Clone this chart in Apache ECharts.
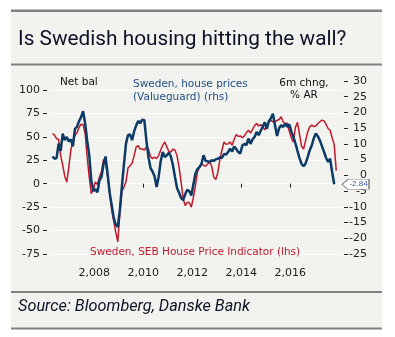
<!DOCTYPE html>
<html>
<head>
<meta charset="utf-8">
<script src="https://cdn.jsdelivr.net/npm/echarts@6/dist/echarts.min.js"></script>
<style>
html,body{margin:0;padding:0;background:#fff;}
#c{width:395px;height:337px;}
</style>
</head>
<body>
<div id="c"></div>
<script>
// Monthly data, first month April 2006
const startYear = 2006;
const startMonth = 4;

// Sweden, SEB House Price Indicator (lhs, net balance)
const sebIndicator = [
  53.6, 51.8, 48.0, 47.5, 30.0, 20.0, 8.0, 1.7, 18.0, 36.0,
  46.0, 51.5, 54.5, 60.0, 63.5, 63.0, 53.6, 28.0, 7.1, -10.7,
  -6.0, 2.0, -1.0, 7.1, 13.0, 26.0, 22.0, 8.0, -9.0, -28.0,
  -40.0, -51.8, -62.0, -32.0, -8.0, -3.6, 2.0, 17.0, 19.0, 22.0,
  30.0, 39.3, 40.5, 37.0, 37.0, 36.0, 39.3, 37.0, 29.0, 26.8,
  28.5, 26.8, 30.0, 36.0, 41.0, 44.6, 39.3, 34.5, 33.9, 37.0,
  35.7, 30.0, 18.0, 2.0, -16.0, -23.2, -20.0, -20.0, -25.0, -15.0,
  -2.0, 12.5, 17.5, 21.4, 19.6, 18.5, 21.0, 23.2, 18.5, 7.0,
  4.5, 12.0, 26.0, 35.7, 44.6, 42.0, 42.5, 44.6, 41.0, 47.5,
  52.5, 50.5, 51.0, 49.0, 51.0, 54.5, 57.1, 54.0, 58.0, 62.0,
  64.3, 61.5, 63.0, 61.0, 57.5, 62.5, 66.1, 67.5, 66.1, 66.1,
  67.5, 68.5, 71.4, 66.1, 64.3, 64.5, 56.0, 49.0, 44.6, 60.0,
  65.5, 53.0, 40.0, 37.0, 46.0, 55.0, 60.7, 62.5, 61.0, 61.5,
  64.3, 66.1, 67.9, 67.0, 63.5, 58.9, 57.1, 49.0, 42.0, 14.0
];

// Sweden, house prices (Valueguard), 6m chng % AR (rhs)
const valueguard = [
  6.0, 5.3, 5.5, 10.1, 7.8, 13.3, 11.2, 12.2, 10.8, 11.4,
  9.2, 14.8, 15.4, 17.2, 18.5, 20.4, 16.5, 11.0, 6.4, -1.6,
  -5.0, -4.4, -5.4, -1.6, -0.5, 3.5, 6.0, 0.5, -5.5, -9.5,
  -13.5, -15.7, -16.4, -11.0, -3.5, 3.5, 10.1, 12.8, 13.0, 11.2,
  14.0, 15.9, 17.3, 16.6, 17.7, 17.5, 11.1, 5.8, 2.4, 1.2,
  -0.3, -3.7, -0.5, 4.5, 7.4, 5.8, 6.4, 7.2, 6.0, 3.2,
  -0.5, -4.0, -5.5, -7.2, -7.9, -6.0, -4.6, -5.0, -6.4, -3.0,
  0.5, 2.0, 2.6, 3.7, 6.4, 4.6, 4.5, 4.2, 4.8, 4.6,
  5.1, 5.3, 5.7, 5.5, 6.8, 6.6, 7.4, 8.5, 7.6, 9.2,
  8.4, 7.4, 7.0, 9.5, 10.0, 9.6, 11.7, 10.0, 11.5, 12.2,
  13.8, 12.8, 14.2, 15.5, 16.9, 14.8, 17.2, 18.2, 19.6, 15.9,
  12.5, 15.0, 15.9, 15.4, 16.4, 15.4, 16.2, 14.0, 12.2, 10.2,
  7.8, 5.5, 3.7, 2.9, 3.8, 5.8, 8.0, 9.5, 11.8, 13.3,
  12.4, 11.1, 9.3, 7.5, 5.6, 4.3, 5.3, 1.0, -2.84
];

const yearTicks = [2008, 2010, 2012, 2014, 2016];
const xMin = 2006.19, xMax = 2018.11;

function toX(i) { return startYear + (startMonth - 1 + i + 0.5) / 12; }

const redData = sebIndicator.map((v, i) => [toX(i), v]);
const blueData = valueguard.map((v, i) => [toX(i), v]);
const lastBlue = valueguard[valueguard.length - 1];

const FONT = 'DejaVu Sans';
const chart = echarts.init(document.getElementById('c'), null, {renderer: 'canvas'});

const option = {
  animation: false,
  backgroundColor: '#ffffff',
  grid: [
    {left: 50, right: 53, top: 90, bottom: 83},
    {left: 50, right: 53, top: 81, bottom: 83}
  ],
  xAxis: [
    {
      gridIndex: 0, type: 'value', min: xMin, max: xMax, offset: 7,
      axisLine: {show: false},
      axisTick: {show: true, length: 4, customValues: yearTicks, lineStyle: {color: '#222', width: 1}},
      axisLabel: {customValues: yearTicks, margin: 7, color: '#222', fontSize: 11, fontFamily: FONT},
      splitLine: {show: false}
    },
    {
      gridIndex: 1, type: 'value', min: xMin, max: xMax, show: false,
      splitLine: {show: false}
    }
  ],
  yAxis: [
    {
      gridIndex: 0, type: 'value', position: 'left', min: -75, max: 100, interval: 25, offset: 3,
      axisLine: {show: false},
      axisTick: {show: true, length: 4, lineStyle: {color: '#222', width: 1}},
      axisLabel: {margin: 7, color: '#222', fontSize: 11, fontFamily: FONT},
      splitLine: {show: true, lineStyle: {color: '#ffffff', width: 1}}
    },
    {
      gridIndex: 1, type: 'value', position: 'right', min: -25, max: 30, interval: 5, offset: 2,
      axisLine: {show: false},
      axisTick: {show: true, length: 4, lineStyle: {color: '#222', width: 1}},
      axisLabel: {margin: 23, align: 'right', color: '#222', fontSize: 11, fontFamily: FONT},
      splitLine: {show: false}
    }
  ],
  graphic: {
    elements: [
      {type: 'rect', z: -10, shape: {x: 11, y: 10, width: 371, height: 319}, style: {fill: '#f2f2ee'}},
      {type: 'rect', z: -5, shape: {x: 11, y: 9.5, width: 371, height: 2.5}, style: {fill: '#808080'}},
      {type: 'rect', z: -5, shape: {x: 11, y: 63.5, width: 371, height: 2}, style: {fill: '#808080'}},
      {type: 'rect', z: -5, shape: {x: 11, y: 291, width: 371, height: 2}, style: {fill: '#808080'}},
      {type: 'rect', z: -5, shape: {x: 11, y: 327.5, width: 371, height: 2}, style: {fill: '#808080'}},
      {type: 'text', z: 10, x: 18, y: 39.5, style: {text: 'Is Swedish housing hitting the wall?', font: '20.8px Roboto', fill: '#0d1326', textVerticalAlign: 'middle'}},
      {type: 'text', z: 10, x: 18, y: 306.5, style: {text: 'Source: Bloomberg, Danske Bank', font: 'italic 16.3px Roboto', fill: '#0d1326', textVerticalAlign: 'middle'}},
      {type: 'text', z: 10, x: 60, y: 82, style: {text: 'Net bal', font: '10.5px "DejaVu Sans"', fill: '#111', textVerticalAlign: 'middle'}},
      {type: 'text', z: 10, x: 133, y: 84, style: {text: 'Sweden, house prices', font: '10.5px "DejaVu Sans"', fill: '#1f4f85', textVerticalAlign: 'middle'}},
      {type: 'text', z: 10, x: 133, y: 97, style: {text: '(Valueguard) (rhs)', font: '10.5px "DejaVu Sans"', fill: '#1f4f85', textVerticalAlign: 'middle'}},
      {type: 'text', z: 10, x: 304, y: 83, style: {text: '6m chng,', font: '10.5px "DejaVu Sans"', fill: '#111', textAlign: 'center', textVerticalAlign: 'middle'}},
      {type: 'text', z: 10, x: 304, y: 95, style: {text: '% AR', font: '10.5px "DejaVu Sans"', fill: '#111', textAlign: 'center', textVerticalAlign: 'middle'}},
      {type: 'text', z: 10, x: 90, y: 252, style: {text: 'Sweden, SEB House Price Indicator (lhs)', font: '10.5px "DejaVu Sans"', fill: '#c0192c', textVerticalAlign: 'middle'}}
    ]
  },
  series: [
    {
      name: 'Sweden, SEB House Price Indicator (lhs)',
      type: 'line', xAxisIndex: 0, yAxisIndex: 0,
      data: redData, showSymbol: false, symbol: 'none',
      lineStyle: {color: '#c0192c', width: 1.5}, z: 2
    },
    {
      name: 'Sweden, house prices (Valueguard) (rhs)',
      type: 'line', xAxisIndex: 1, yAxisIndex: 1,
      data: blueData, showSymbol: false, symbol: 'none',
      lineStyle: {color: '#0b3a66', width: 2.5}, z: 3,
      markPoint: {
        symbol: 'path://M0,5L6,0L27,0L27,10L6,10Z',
        symbolSize: [27, 10],
        symbolKeepAspect: false,
        symbolOffset: ['50%', 0],
        itemStyle: {color: '#ffffff', borderColor: '#8a8a8a', borderWidth: 1},
        label: {show: true, position: 'inside', offset: [3, 0], color: '#3a5aa8', fontSize: 8, fontFamily: 'Liberation Sans',
          formatter: p => p.value.toFixed(2)},
        data: [{coord: [xMax, lastBlue], value: lastBlue}]
      }
    }
  ]
};
chart.setOption(option);
</script>
</body>
</html>
